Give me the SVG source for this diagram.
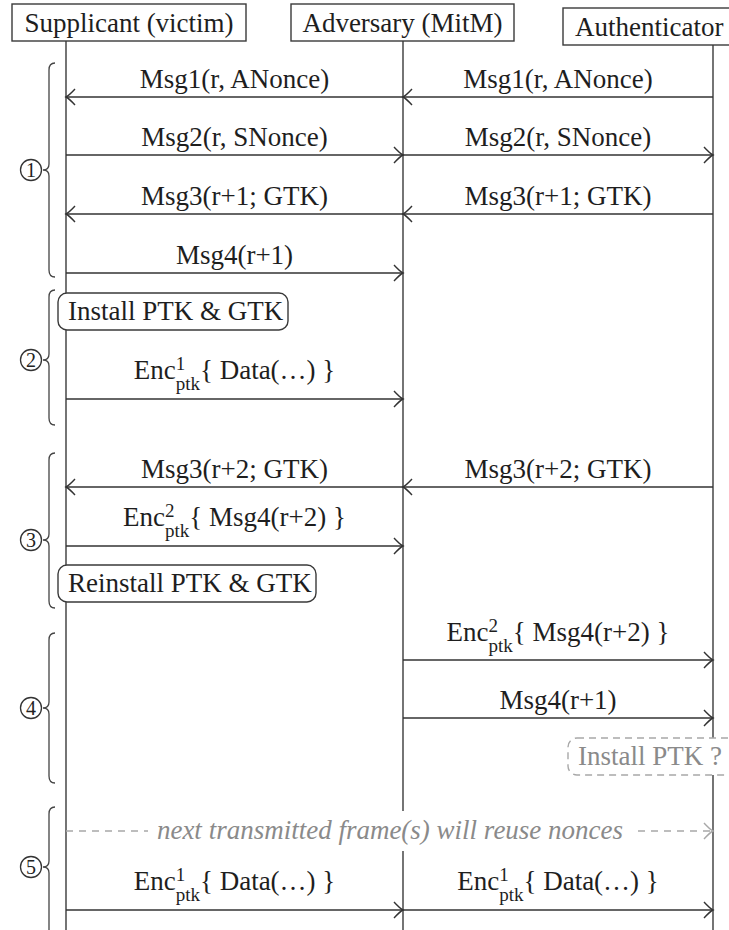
<svg xmlns="http://www.w3.org/2000/svg" width="729" height="930" viewBox="0 0 729 930">
<style>
.t{font-family:"Liberation Serif","Times New Roman",serif;font-size:27px;fill:#1e1e1e}
.m{text-anchor:middle}
.s{font-size:19px}
.box{fill:#fff;stroke:#3a3a3a;stroke-width:1.4}
.life{stroke:#3a3a3a;stroke-width:1.4;fill:none}
.arr{stroke:#333;stroke-width:1.4;fill:none;marker-end:url(#ah)}
.dash{stroke:#a8a8a8;stroke-width:1.4;fill:none;stroke-dasharray:7 6;marker-end:url(#ahg)}
.brace{stroke:#444;stroke-width:1.3;fill:none}
.num{fill:none;stroke:#333;stroke-width:1.3}
.nt{font-family:"Liberation Serif","Times New Roman",serif;font-size:20px;fill:#222;text-anchor:middle}
.gray{fill:#8a8a8a}
</style>
<defs>
<marker id="ah" markerUnits="userSpaceOnUse" viewBox="-12 -10 14 20" refX="0" refY="0" markerWidth="14" markerHeight="20" orient="auto">
<path d="M -9 -8 Q -3 -1.5 0 0 Q -3 1.5 -9 8" fill="none" stroke="#333" stroke-width="1.4"/>
</marker>
<marker id="ahg" markerUnits="userSpaceOnUse" viewBox="-12 -10 14 20" refX="0" refY="0" markerWidth="14" markerHeight="20" orient="auto">
<path d="M -9 -8 Q -3 -1.5 0 0 Q -3 1.5 -9 8" fill="none" stroke="#a8a8a8" stroke-width="1.4"/>
</marker>
</defs>
<rect width="729" height="930" fill="#fff"/>

<g id="supplicant">
<line class="life" x1="66" y1="41" x2="66" y2="930"/>
<rect class="box" x="12" y="4" width="234" height="37"/>
<text class="t m" x="129" y="32">Supplicant (victim)</text>
</g>
<g id="adversary">
<line class="life" x1="403" y1="41" x2="403" y2="930"/>
<rect class="box" x="291" y="4" width="223" height="37"/>
<text class="t m" x="402.5" y="32">Adversary (MitM)</text>
</g>
<g id="authenticator">
<line class="life" x1="713" y1="45" x2="713" y2="930"/>
<rect class="box" x="563" y="8" width="180" height="37"/>
<text class="t" x="575" y="36">Authenticator</text>
</g>

<g id="phase1">
<path class="brace" d="M55 63 Q49 63 49 70 L49 164 Q49 170 43 170 Q49 170 49 176 L49 270 Q49 277 55 277"/>
<circle class="num" cx="31" cy="170" r="10.5"/>
<text class="nt" x="31" y="177">1</text>
</g>
<g id="phase2">
<path class="brace" d="M55 290 Q49 290 49 297 L49 354 Q49 360 43 360 Q49 360 49 366 L49 418 Q49 425 55 425"/>
<circle class="num" cx="31" cy="360" r="10.5"/>
<text class="nt" x="31" y="367">2</text>
</g>
<g id="phase3">
<path class="brace" d="M55 453 Q49 453 49 460 L49 534 Q49 540 43 540 Q49 540 49 546 L49 601 Q49 608 55 608"/>
<circle class="num" cx="31" cy="540" r="10.5"/>
<text class="nt" x="31" y="547">3</text>
</g>
<g id="phase4">
<path class="brace" d="M55 633 Q49 633 49 640 L49 702 Q49 708 43 708 Q49 708 49 714 L49 776 Q49 783 55 783"/>
<circle class="num" cx="31" cy="708" r="10.5"/>
<text class="nt" x="31" y="715">4</text>
</g>
<g id="phase5">
<path class="brace" d="M55 807 Q49 807 49 814 L49 861 Q49 867 43 867 Q49 867 49 873 L49 930"/>
<circle class="num" cx="31" cy="867" r="10.5"/>
<text class="nt" x="31" y="874">5</text>
</g>

<g id="install">
<rect class="box" x="58" y="293" width="230" height="37" rx="9"/>
<text class="t" x="68" y="320">Install PTK &amp; GTK</text>
</g>
<g id="reinstall">
<rect class="box" x="58" y="565" width="258" height="37" rx="9"/>
<text class="t" x="68" y="592">Reinstall PTK &amp; GTK</text>
</g>
<g id="install-ptk">
<rect x="568" y="738" width="170" height="37" rx="9" fill="#fff" stroke="#a8a8a8" stroke-width="1.4" stroke-dasharray="7 5"/>
<text class="t gray" x="578" y="765">Install PTK ?</text>
</g>

<g id="connectors">
<line class="arr" x1="713" y1="97" x2="403" y2="97"/>
<line class="arr" x1="403" y1="97" x2="66" y2="97"/>
<text class="t m" x="234.5" y="88">Msg1(r, ANonce)</text>
<text class="t m" x="558" y="88">Msg1(r, ANonce)</text>

<line class="arr" x1="66" y1="155" x2="403" y2="155"/>
<line class="arr" x1="403" y1="155" x2="713" y2="155"/>
<text class="t m" x="234.5" y="146">Msg2(r, SNonce)</text>
<text class="t m" x="558" y="146">Msg2(r, SNonce)</text>

<line class="arr" x1="713" y1="214" x2="403" y2="214"/>
<line class="arr" x1="403" y1="214" x2="66" y2="214"/>
<text class="t m" x="234.5" y="205">Msg3(r+1; GTK)</text>
<text class="t m" x="558" y="205">Msg3(r+1; GTK)</text>

<line class="arr" x1="66" y1="273" x2="403" y2="273"/>
<text class="t m" x="234.5" y="264">Msg4(r+1)</text>

<line class="arr" x1="66" y1="399" x2="403" y2="399"/>
<text class="t m" x="234.5" y="379">Enc<tspan class="s" dy="-9">1</tspan><tspan class="s" dx="-9.5" dy="20">ptk</tspan><tspan dy="-11">{ Data(…) }</tspan></text>

<line class="arr" x1="713" y1="487" x2="403" y2="487"/>
<line class="arr" x1="403" y1="487" x2="66" y2="487"/>
<text class="t m" x="234.5" y="478">Msg3(r+2; GTK)</text>
<text class="t m" x="558" y="478">Msg3(r+2; GTK)</text>

<line class="arr" x1="66" y1="546" x2="403" y2="546"/>
<text class="t m" x="234.5" y="526">Enc<tspan class="s" dy="-9">2</tspan><tspan class="s" dx="-9.5" dy="20">ptk</tspan><tspan dy="-11">{ Msg4(r+2) }</tspan></text>

<line class="arr" x1="403" y1="660" x2="713" y2="660"/>
<text class="t m" x="558" y="641">Enc<tspan class="s" dy="-9">2</tspan><tspan class="s" dx="-9.5" dy="20">ptk</tspan><tspan dy="-11">{ Msg4(r+2) }</tspan></text>

<line class="arr" x1="403" y1="718" x2="713" y2="718"/>
<text class="t m" x="558" y="709">Msg4(r+1)</text>

<line class="dash" x1="66" y1="831" x2="713" y2="831"/>
<rect x="148" y="811" width="484" height="40" fill="#fff"/>
<text class="t m gray" x="390" y="839" font-style="italic" font-size="26">next transmitted frame(s) will reuse nonces</text>

<line class="arr" x1="66" y1="910" x2="403" y2="910"/>
<line class="arr" x1="403" y1="910" x2="713" y2="910"/>
<text class="t m" x="234.5" y="890">Enc<tspan class="s" dy="-9">1</tspan><tspan class="s" dx="-9.5" dy="20">ptk</tspan><tspan dy="-11">{ Data(…) }</tspan></text>
<text class="t m" x="558" y="890">Enc<tspan class="s" dy="-9">1</tspan><tspan class="s" dx="-9.5" dy="20">ptk</tspan><tspan dy="-11">{ Data(…) }</tspan></text>
</g>
</svg>
